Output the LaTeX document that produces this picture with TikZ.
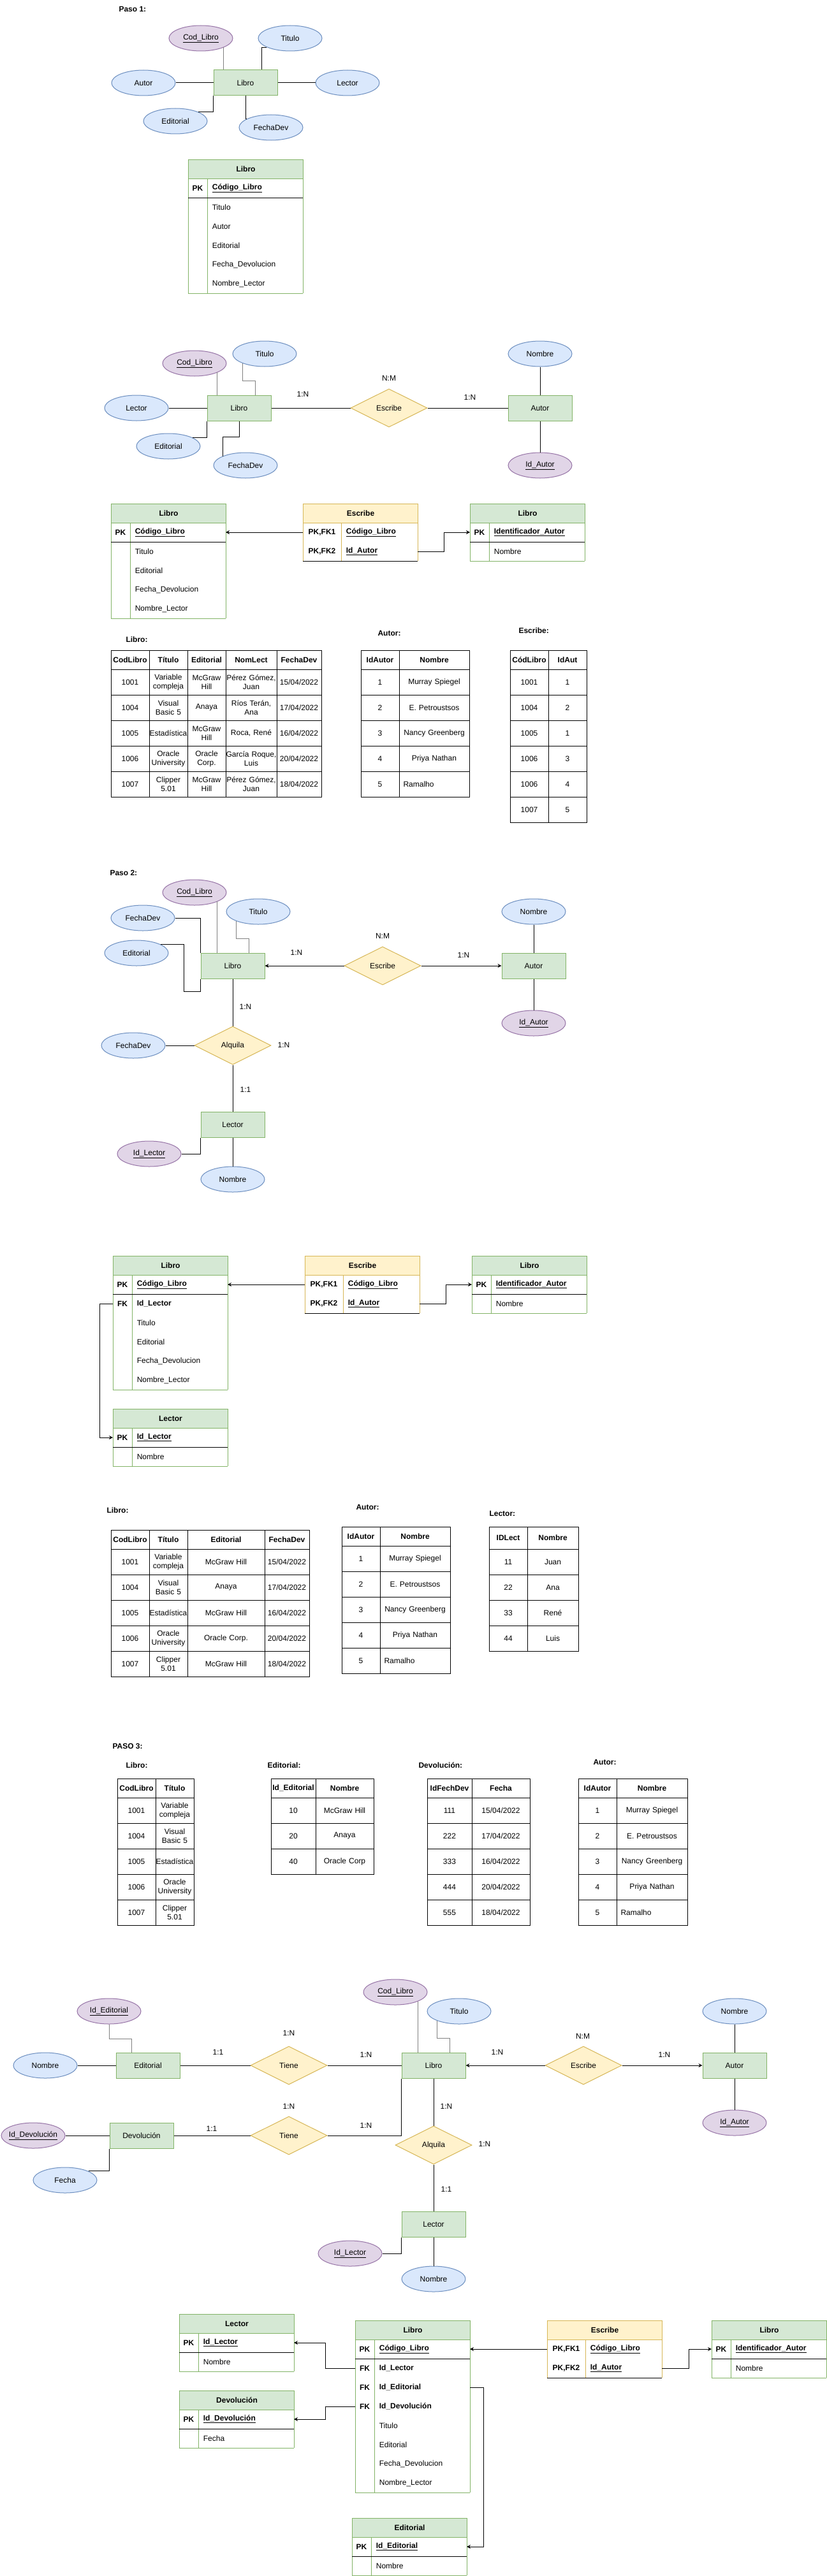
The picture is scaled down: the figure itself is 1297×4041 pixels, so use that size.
\documentclass[tikz,border=0pt]{standalone}
\usepackage{fontspec}
\setmainfont{Liberation Sans}
\usetikzlibrary{shapes.geometric,arrows.meta}

\definecolor{attrfill}{HTML}{DAE8FC}
\definecolor{attrline}{HTML}{6C8EBF}
\definecolor{keyfill}{HTML}{E1D5E7}
\definecolor{keyline}{HTML}{9673A6}
\definecolor{entfill}{HTML}{D5E8D4}
\definecolor{entline}{HTML}{82B366}
\definecolor{relfill}{HTML}{FFF2CC}
\definecolor{relline}{HTML}{D6B656}

\tikzset{
    attr/.style={ellipse, draw=attrline, fill=attrfill, minimum width=100, minimum height=40, inner sep=0pt, inner xsep=-12pt},
    keyattr/.style={attr, draw=keyline, fill=keyfill},
    entity/.style={rectangle, draw=entline, fill=entfill, minimum width=100, minimum height=40},
    rel/.style={diamond, aspect=2, draw=relline, fill=relfill, minimum width=120, minimum height=60, inner sep=1pt},
    card/.style={inner sep=0pt},
    lbl/.style={anchor=west, inner sep=0pt, font=\fontsize{12}{14}\selectfont\bfseries},
    gln/.style={draw=gray},
    arr/.style={-{Stealth[length=6pt, width=6pt]}},
    cell/.style={draw, align=center, inner xsep=0.5pt, inner ysep=0pt},
    grnhead/.style={fill=entfill, draw=entline},
    grnline/.style={draw=entline},
    ylwhead/.style={fill=relfill, draw=relline},
    ylwline/.style={draw=relline}
}

\newcommand{\pkfield}[1]{\underline{\textbf{#1}}}
\newcommand{\leftcell}[1]{\hspace*{6pt}#1\hspace{0pt plus 1filll}\null}

% table: name, left, top, key width, title, colour, key rows, rows
\newcommand{\ertab}[8]{%
    \node[#6head, minimum width=180, minimum height=30, anchor=north west] (#1) at (#2,#3) {\textbf{#5}};
    \foreach \key/\fld [count=\ri] in {#8} {
        \node[minimum width=180, minimum height=30, inner sep=0pt, outer sep=0pt, anchor=north west] (#1-\ri) at ({#2},{#3+30*\ri}) {};
        \draw[#6line] (#1-\ri.north west) -- (#1-\ri.south west)
            (#1-\ri.north east) -- (#1-\ri.south east)
            ([xshift=#4]#1-\ri.north west) -- ([xshift=#4]#1-\ri.south west);
        \node (#1-\ri-k) at ([xshift=#4/2]#1-\ri.west) {\textbf{\key}};
        \node[anchor=west] (#1-\ri-f) at ([xshift=#4+4]#1-\ri.west) {\fld};
        \xdef\lastrow{#1-\ri}
    }
    \draw[#6line] (\lastrow.south west) -- (\lastrow.south east);
    \draw (#1-#7.south west) -- (#1-#7.south east);
}

% data table: name, column borders, row borders, rows
\newcommand{\datatab}[4]{%
    \foreach \row [count=\ri] in {#4} {
        \foreach \txt [count=\ci] in \row {
            \pgfmathsetmacro\xa{{#2}[\ci-1]}
            \pgfmathsetmacro\xb{{#2}[\ci]}
            \pgfmathsetmacro\ya{{#3}[\ri-1]}
            \pgfmathsetmacro\yb{{#3}[\ri]}
            \pgfmathsetmacro\cw{\xb-\xa}
            \pgfmathsetmacro\chh{\yb-\ya}
            \pgfmathsetmacro\tw{\xb-\xa-1}
            \node[cell, minimum width=\cw pt, minimum height=\chh pt, text width=\tw pt] (#1-\ri-\ci)
                at ({(\xa+\xb)/2},{(\ya+\yb)/2}) {\ifnum\ri=1 \bfseries\fi\txt};
        }
    }
}

\begin{document}
\begin{tikzpicture}[x=1pt, y=-1pt, line width=1pt, font=\fontsize{12}{14}\selectfont]
\useasboundingbox[fill=white] (0,0) rectangle (1297,4041);

% Paso 1
\node[lbl] (paso1) at (186,14) {Paso 1:};
\node[keyattr] (p1cod) at (315,60) {\underline{Cod\_Libro}};
\node[attr] (p1tit) at (455,60) {Titulo};
\node[attr] (p1aut) at (225,130) {Autor};
\node[entity] (p1lib) at (385,130) {Libro};
\node[attr] (p1lec) at (545,130) {Lector};
\node[attr] (p1edi) at (275,190) {Editorial};
\node[attr] (p1fec) at (425,200) {FechaDev};
\draw[gln] (p1cod.-22) -- (p1cod.-22 |- p1lib.north);
\draw (p1tit.201) -| ([xshift=25]p1lib.north);
\draw (p1aut) -- (p1lib);
\draw (p1lib) -- (p1lec);
\draw (p1lib.south west) |- (p1edi.22);
\draw (p1lib.south) |- (p1fec.160);

\ertab{t1}{295}{250}{30}{Libro}{grn}{1}{PK/\pkfield{Código\_Libro}, /Titulo, /Autor, /Editorial, /Fecha\_Devolucion, /Nombre\_Lector}

% Libro - Escribe - Autor
\node[attr] (e1tit) at (415,555) {Titulo};
\node[keyattr] (e1cod) at (305,570) {\underline{Cod\_Libro}};
\node[attr] (e1nom) at (847,555) {Nombre};
\node[attr] (e1lec) at (214,640) {Lector};
\node[entity] (e1lib) at (375,640) {Libro};
\node[rel] (e1esc) at (610,640) {Escribe};
\node[entity] (e1aut) at (847,640) {Autor};
\node[attr] (e1edi) at (264,700) {Editorial};
\node[attr] (e1fec) at (385,730) {FechaDev};
\node[keyattr] (e1ida) at (847,730) {\underline{Id\_Autor}};
\node[card] (e1nm) at (610,593) {N:M};
\node[card] (e1c1) at (475,618) {1:N};
\node[card] (e1c2) at (737,623) {1:N};
\draw[gln] (e1cod.-22) -- (e1cod.-22 |- e1lib.north);
\draw[gln] (e1tit.203) -- ++(0,28) -| ([xshift=25]e1lib.north);
\draw (e1lec) -- (e1lib);
\draw (e1lib) -- (e1esc);
\draw (e1esc) -- (e1aut);
\draw (e1nom) -- (e1aut);
\draw (e1aut) -- (e1ida);
\draw (e1lib.south west) |- (e1edi.20);
\draw (e1lib.south) -- ++(0,25) -| (e1fec.158);

\ertab{t2}{174}{790}{30}{Libro}{grn}{1}{PK/\pkfield{Código\_Libro}, /Titulo, /Editorial, /Fecha\_Devolucion, /Nombre\_Lector}
\ertab{t3}{475}{790}{60}{Escribe}{ylw}{2}{{PK,FK1}/\pkfield{Código\_Libro}, {PK,FK2}/\pkfield{Id\_Autor}}
\ertab{t4}{737}{790}{30}{Libro}{grn}{1}{PK/\pkfield{Identificador\_Autor}, /Nombre}
\draw[arr] (t3-1.west) -- (t2-1.east);
\draw[arr] (t3-2.east) -- ++(41,0) |- (t4-1.west);

\node[lbl] (l1) at (197,1003) {Libro:};
\node[lbl] (l2) at (592,993) {Autor:};
\node[lbl] (l3) at (813,989) {Escribe:};
\datatab{d1}{174,234,294,354,434,504}{1020,1050,1090,1130,1170,1210,1250}{
    {CodLibro,Título,Editorial,NomLect,FechaDev},
    {1001,{Variable\\compleja},{McGraw\\Hill},{Pérez~Gómez,\\Juan},15/04/2022},
    {1004,{Visual\\Basic 5},Anaya,{Ríos~Terán,\\Ana},17/04/2022},
    {1005,Estadística,{McGraw\\Hill},{Roca, René},16/04/2022},
    {1006,{Oracle\\University},{Oracle\\Corp.},{García~Roque,\\Luis},20/04/2022},
    {1007,{Clipper\\5.01},{McGraw\\Hill},{Pérez~Gómez,\\Juan},18/04/2022}}
\datatab{d2}{566,626,736}{1020,1050,1090,1130,1170,1210,1250}{
    {IdAutor,Nombre},{1,Murray Spiegel},{2,E. Petroustsos},{3,Nancy Greenberg},
    {4,Priya Nathan},{5,\leftcell{Ramalho}}}
\datatab{d3}{800,860,920}{1020,1050,1090,1130,1170,1210,1250,1290}{
    {CódLibro,IdAut},{1001,1},{1004,2},{1005,1},{1006,3},{1006,4},{1007,5}}

% Paso 2
\node[lbl] (paso2) at (172,1369) {Paso 2:};
\node[keyattr] (p2cod) at (305,1400) {\underline{Cod\_Libro}};
\node[attr] (p2tit) at (405,1430) {Titulo};
\node[attr] (p2fec) at (224,1440) {FechaDev};
\node[attr] (p2edi) at (214,1495) {Editorial};
\node[attr] (p2nom) at (837,1430) {Nombre};
\node[entity] (p2lib) at (365,1515) {Libro};
\node[rel] (p2esc) at (600,1515) {Escribe};
\node[entity] (p2aut) at (837,1515) {Autor};
\node[keyattr] (p2ida) at (837,1605) {\underline{Id\_Autor}};
\node[rel] (p2alq) at (365,1640) {Alquila};
\node[attr] (p2fe2) at (209,1640) {FechaDev};
\node[entity] (p2lec) at (365,1764) {Lector};
\node[keyattr] (p2idl) at (234,1810) {\underline{Id\_Lector}};
\node[attr] (p2nol) at (365,1850) {Nombre};
\node[card] (p2nm) at (600,1468) {N:M};
\node[card] (p2c1) at (465,1494) {1:N};
\node[card] (p2c2) at (727,1498) {1:N};
\node[card] (p2c3) at (385,1579) {1:N};
\node[card] (p2c4) at (445,1639) {1:N};
\node[card] (p2c5) at (385,1709) {1:1};
\draw (p2fec.east) -| (p2lib.north west);
\draw[gln] (p2cod.-22) -- (p2cod.-22 |- p2lib.north);
\draw[gln] (p2tit.203) -- ++(0,28) -| ([xshift=25]p2lib.north);
\draw (p2edi.20) -| ([xshift=-26,yshift=-20]p2lib.south west) -| (p2lib.south west);
\draw[arr] (p2esc) -- (p2lib);
\draw[arr] (p2esc) -- (p2aut);
\draw (p2nom) -- (p2aut);
\draw (p2aut) -- (p2ida);
\draw (p2lib) -- (p2alq);
\draw (p2fe2) -- (p2alq);
\draw (p2alq) -- (p2lec);
\draw (p2idl.east) -| (p2lec.south west);
\draw (p2lec) -- (p2nol);

\ertab{r1}{177}{1970}{30}{Libro}{grn}{1}{PK/\pkfield{Código\_Libro}, FK/\textbf{Id\_Lector}, /Titulo, /Editorial, /Fecha\_Devolucion, /Nombre\_Lector}
\ertab{r2}{478}{1970}{60}{Escribe}{ylw}{2}{{PK,FK1}/\pkfield{Código\_Libro}, {PK,FK2}/\pkfield{Id\_Autor}}
\ertab{r3}{740}{1970}{30}{Libro}{grn}{1}{PK/\pkfield{Identificador\_Autor}, /Nombre}
\ertab{r4}{177}{2210}{30}{Lector}{grn}{1}{PK/\pkfield{Id\_Lector}, /Nombre}
\draw[arr] (r1-2.west) -- ++(-21,0) |- (r4-1.west);
\draw[arr] (r2-1.west) -- (r1-1.east);
\draw[arr] (r2-2.east) -- ++(41,0) |- (r3-1.west);

\node[lbl] (l4) at (167,2369) {Libro:};
\node[lbl] (l5) at (558,2364) {Autor:};
\node[lbl] (l6) at (767,2374) {Lector:};
\datatab{d4}{174,234,294,415,485}{2400,2430,2470,2510,2550,2590,2630}{
    {CodLibro,Título,Editorial,FechaDev},
    {1001,{Variable\\compleja},McGraw Hill,15/04/2022},
    {1004,{Visual\\Basic 5},Anaya,17/04/2022},
    {1005,Estadística,McGraw Hill,16/04/2022},
    {1006,{Oracle\\University},Oracle Corp.,20/04/2022},
    {1007,{Clipper\\5.01},McGraw Hill,18/04/2022}}
\datatab{d5}{536,596,706}{2395,2425,2465,2505,2545,2585,2625}{
    {IdAutor,Nombre},{1,Murray Spiegel},{2,E. Petroustsos},{3,Nancy Greenberg},
    {4,Priya Nathan},{5,\leftcell{Ramalho}}}
\datatab{d6}{767,827,907}{2395,2430,2470,2510,2550,2590}{
    {IDLect,Nombre},{11,Juan},{22,Ana},{33,René},{44,Luis}}

% Paso 3
\node[lbl] (paso3) at (176,2739) {PASO 3:};
\node[lbl] (l7) at (197,2769) {Libro:};
\node[lbl] (l8) at (419,2769) {Editorial:};
\node[lbl] (l9) at (656,2769) {Devolución:};
\node[lbl] (l10) at (930,2764) {Autor:};
\datatab{d7}{184,244,304}{2790,2820,2860,2900,2940,2980,3020}{
    {CodLibro,Título},{1001,{Variable\\compleja}},{1004,{Visual\\Basic 5}},
    {1005,Estadística},{1006,{Oracle\\University}},{1007,{Clipper\\5.01}}}
\datatab{d8}{425,495,586}{2790,2820,2860,2900,2940}{
    {Id\_Editorial,Nombre},{10,McGraw Hill},{20,Anaya},{40,Oracle Corp}}
\datatab{d9}{670,740,831}{2790,2820,2860,2900,2940,2980,3020}{
    {IdFechDev,Fecha},{111,15/04/2022},{222,17/04/2022},{333,16/04/2022},
    {444,20/04/2022},{555,18/04/2022}}
\datatab{d10}{907,967,1078}{2790,2820,2860,2900,2940,2980,3020}{
    {IdAutor,Nombre},{1,Murray Spiegel},{2,E. Petroustsos},{3,Nancy Greenberg},
    {4,Priya Nathan},{5,\leftcell{Ramalho}}}

\node[keyattr] (p3cod) at (620,3125) {\underline{Cod\_Libro}};
\node[attr] (p3tit) at (720,3155) {Titulo};
\node[keyattr] (p3ide) at (171,3155) {\underline{Id\_Editorial}};
\node[attr] (p3nma) at (1152,3155) {Nombre};
\node[attr] (p3nme) at (71,3240) {Nombre};
\node[entity] (p3edi) at (232,3240) {Editorial};
\node[rel] (p3ti1) at (453,3240) {Tiene};
\node[entity] (p3lib) at (680,3240) {Libro};
\node[rel] (p3esc) at (915,3240) {Escribe};
\node[entity] (p3aut) at (1152,3240) {Autor};
\node[keyattr] (p3ida) at (1152,3330) {\underline{Id\_Autor}};
\node[keyattr] (p3idd) at (52,3350) {\underline{Id\_Devolución}};
\node[entity] (p3dev) at (222,3350) {Devolución};
\node[rel] (p3ti2) at (453,3350) {Tiene};
\node[rel] (p3alq) at (680,3365) {Alquila};
\node[attr] (p3fec) at (102,3420) {Fecha};
\node[entity] (p3lec) at (680,3489) {Lector};
\node[keyattr] (p3idl) at (549,3535) {\underline{Id\_Lector}};
\node[attr] (p3nol) at (680,3575) {Nombre};
\node[card] (p3c1) at (453,3189) {1:N};
\node[card] (p3nm) at (914,3194) {N:M};
\node[card] (p3c2) at (342,3219) {1:1};
\node[card] (p3c3) at (574,3223) {1:N};
\node[card] (p3c4) at (780,3219) {1:N};
\node[card] (p3c5) at (1042,3223) {1:N};
\node[card] (p3c6) at (453,3304) {1:N};
\node[card] (p3c7) at (700,3304) {1:N};
\node[card] (p3c8) at (332,3339) {1:1};
\node[card] (p3c9) at (574,3334) {1:N};
\node[card] (p3c10) at (760,3363) {1:N};
\node[card] (p3c11) at (700,3434) {1:1};
\draw[gln] (p3ide.south) -- ++(0,23) -| ([xshift=-26]p3edi.north);
\draw[gln] (p3cod.-22) -- (p3cod.-22 |- p3lib.north);
\draw[gln] (p3tit.203) -- ++(0,28) -| ([xshift=25]p3lib.north);
\draw (p3nme) -- (p3edi);
\draw (p3edi) -- (p3ti1);
\draw (p3ti1) -- (p3lib);
\draw[arr] (p3esc) -- (p3lib);
\draw[arr] (p3esc) -- (p3aut);
\draw (p3nma) -- (p3aut);
\draw (p3aut) -- (p3ida);
\draw (p3idd) -- (p3dev);
\draw (p3dev) -- (p3ti2);
\draw (p3ti2.east) -| (p3lib.south west);
\draw (p3fec.21) -| (p3dev.south west);
\draw (p3lib) -- (p3alq);
\draw (p3alq) -- (p3lec);
\draw (p3idl.east) -| (p3lec.south west);
\draw (p3lec) -- (p3nol);

\ertab{s1}{281}{3630}{30}{Lector}{grn}{1}{PK/\pkfield{Id\_Lector}, /Nombre}
\ertab{s2}{557}{3640}{30}{Libro}{grn}{1}{PK/\pkfield{Código\_Libro}, FK/\textbf{Id\_Lector}, FK/\textbf{Id\_Editorial}, FK/\textbf{Id\_Devolución}, /Titulo, /Editorial, /Fecha\_Devolucion, /Nombre\_Lector}
\ertab{s3}{858}{3640}{60}{Escribe}{ylw}{2}{{PK,FK1}/\pkfield{Código\_Libro}, {PK,FK2}/\pkfield{Id\_Autor}}
\ertab{s4}{1116}{3640}{30}{Libro}{grn}{1}{PK/\pkfield{Identificador\_Autor}, /Nombre}
\ertab{s5}{281}{3750}{30}{Devolución}{grn}{1}{PK/\pkfield{Id\_Devolución}, /Fecha}
\ertab{s6}{552}{3950}{30}{Editorial}{grn}{1}{PK/\pkfield{Id\_Editorial}, /Nombre}
\draw[arr] (s2-2.west) -- ++(-47,0) |- (s1-1.east);
\draw[arr] (s2-4.west) -- ++(-47,0) |- (s5-1.east);
\draw[arr] (s2-3.east) -- ++(21,0) |- (s6-1.east);
\draw[arr] (s3-1.west) -- (s2-1.east);
\draw[arr] (s3-2.east) -- ++(42,0) |- (s4-1.west);
\end{tikzpicture}
\end{document}
